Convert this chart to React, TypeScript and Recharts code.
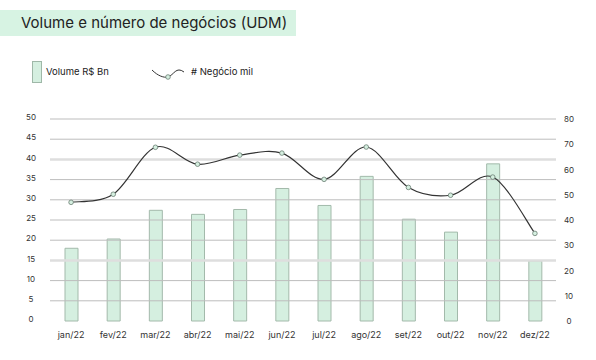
import React from 'react';
import { ComposedChart, Bar, Line, XAxis, YAxis, ReferenceLine } from 'recharts';

const months = ['jan/22', 'fev/22', 'mar/22', 'abr/22', 'mai/22', 'jun/22', 'jul/22', 'ago/22', 'set/22', 'out/22', 'nov/22', 'dez/22'];
const volume = [18, 20.3, 27.4, 26.4, 27.6, 32.8, 28.6, 35.8, 25.2, 22, 38.9, 14.9];
const negocios = [47, 50.2, 68.8, 62.1, 65.7, 66.5, 56.1, 68.9, 52.9, 49.8, 57, 34.7];
const leftTicks = [0, 5, 10, 15, 20, 25, 30, 35, 40, 45, 50];
const rightTicks = [0, 10, 20, 30, 40, 50, 60, 70, 80];
const gridValues = [5, 10, 20, 25, 30, 35, 45, 50];
const lightGridValues = [15, 40];

const data = months.map((m, i) => ({ month: m, volume: volume[i], negocios: negocios[i] }));

const FONT = 'Inter, "Noto Sans", sans-serif';

// Excel-like smoothed line (Catmull-Rom bezier)
function smoothCurve(context: any) {
  let pts: number[][] = [];
  return {
    areaStart() {},
    areaEnd() {},
    lineStart() { pts = []; },
    lineEnd() {
      if (!pts.length) return;
      context.moveTo(pts[0][0], pts[0][1]);
      for (let i = 0; i < pts.length - 1; i++) {
        const p0 = pts[i - 1] || pts[i];
        const p1 = pts[i];
        const p2 = pts[i + 1];
        const p3 = pts[i + 2] || p2;
        context.bezierCurveTo(
          p1[0] + (p2[0] - p0[0]) / 6, p1[1] + (p2[1] - p0[1]) / 6,
          p2[0] - (p3[0] - p1[0]) / 6, p2[1] - (p3[1] - p1[1]) / 6,
          p2[0], p2[1]
        );
      }
    },
    point(x: number, y: number) { pts.push([+x, +y]); },
  };
}

const LeftTick = (props: any) => (
  <text x={31} y={props.y} dy={-1} textAnchor="middle" fontSize={8} fontFamily={FONT} fill="#333" dominantBaseline="middle">
    {props.payload.value}
  </text>
);
const RightTick = (props: any) => (
  <text x={569} y={props.y} dy={1} textAnchor="middle" fontSize={8} fontFamily={FONT} fill="#333" dominantBaseline="middle">
    {props.payload.value}
  </text>
);
const XTick = (props: any) => (
  <text x={props.x} y={336} textAnchor="middle" fontSize={9} fontFamily={FONT} fill="#333" dominantBaseline="middle">
    {props.payload.value}
  </text>
);

export default function App() {
  return (
    <div style={{ position: 'absolute', left: 0, top: 0, width: 596, height: 360, background: '#fff', fontFamily: FONT }}>
      <div style={{ position: 'absolute', left: 0, top: 10, width: 296, height: 26, background: '#d7f3e3' }} />
      <div style={{ position: 'absolute', left: 21, top: 12, fontSize: 15, color: '#222', whiteSpace: 'nowrap', lineHeight: '22px' }}>
        Volume e número de negócios (UDM)
      </div>
      <div style={{ position: 'absolute', left: 32, top: 61, width: 8, height: 20, background: '#d5efe0', border: '1px solid #9fb8a8' }} />
      <div style={{ position: 'absolute', left: 46, top: 66, fontSize: 9.5, color: '#222', whiteSpace: 'nowrap', lineHeight: '12px' }}>
        Volume R$ Bn
      </div>
      <svg style={{ position: 'absolute', left: 150, top: 62 }} width={36} height={20}>
        <path d="M2 8 C8 14, 14 16, 18 15 C24 13, 26 4, 34 10" fill="none" stroke="#333" strokeWidth={1} />
        <circle cx={18} cy={15} r={2.3} fill="#d5efe0" stroke="#6a7e72" strokeWidth={0.8} />
      </svg>
      <div style={{ position: 'absolute', left: 191, top: 66, fontSize: 9.5, color: '#222', whiteSpace: 'nowrap', lineHeight: '12px' }}>
        # Negócio mil
      </div>
      <div style={{ position: 'absolute', left: 0, top: 0 }}>
        <ComposedChart width={596} height={360} data={data} margin={{ top: 119, right: 0, bottom: 0, left: 0 }}>
          <XAxis dataKey="month" axisLine={false} tickLine={false} tick={<XTick />} interval={0} height={39} />
          <YAxis yAxisId="left" width={50} domain={[0, 50]} ticks={leftTicks} axisLine={false} tickLine={false} tick={<LeftTick />} interval={0} />
          <YAxis yAxisId="right" orientation="right" width={40} domain={[0, 80]} ticks={rightTicks} axisLine={false} tickLine={false} tick={<RightTick />} interval={0} />
          {gridValues.map((v) => (
            <ReferenceLine key={'g' + v} yAxisId="left" y={v} stroke="#bdbdbd" strokeWidth={1} />
          ))}
          {lightGridValues.map((v) => (
            <ReferenceLine key={'l' + v} yAxisId="left" y={v} stroke="#dedede" strokeWidth={2.5} />
          ))}
          <Bar yAxisId="left" dataKey="volume" barSize={13} fill="#d5efe0" stroke="#a3baab" strokeWidth={1} isAnimationActive={false} />
          <Line
            yAxisId="right"
            dataKey="negocios"
            type={smoothCurve as any}
            stroke="#333"
            strokeWidth={1.2}
            dot={{ r: 2.3, fill: '#d5efe0', stroke: '#6a7e72', strokeWidth: 0.8 }}
            activeDot={false}
            isAnimationActive={false}
          />
        </ComposedChart>
      </div>
    </div>
  );
}
